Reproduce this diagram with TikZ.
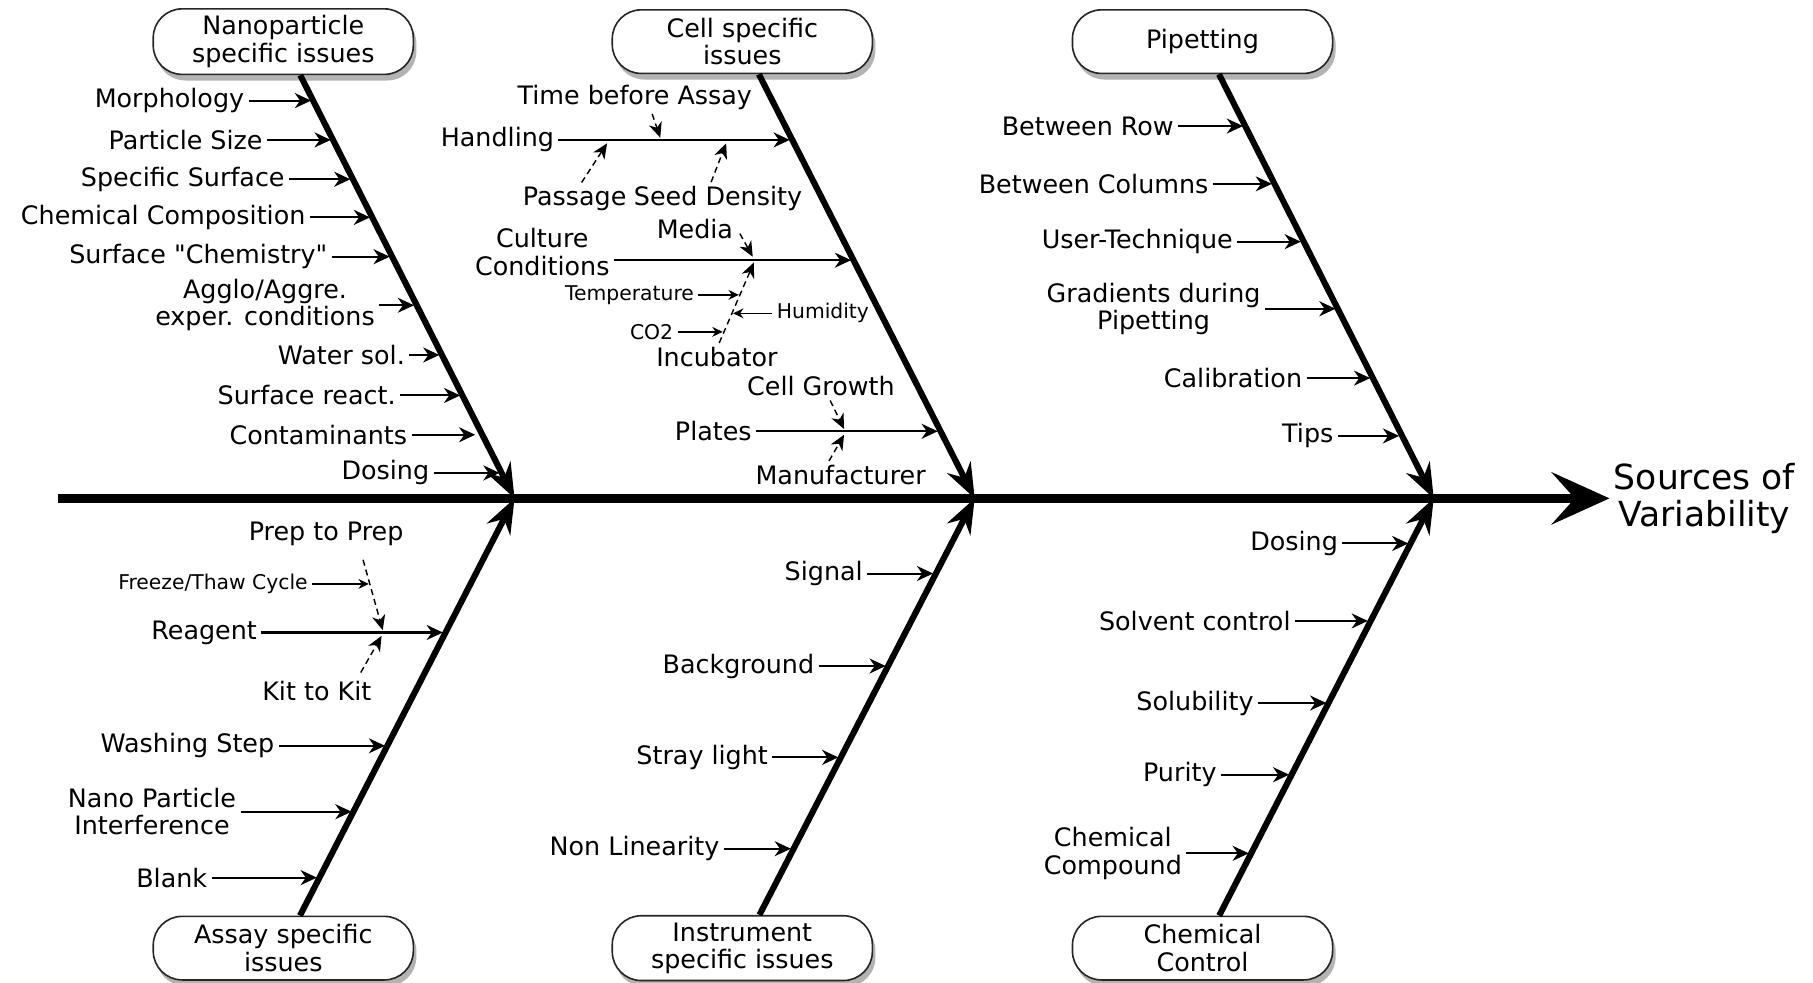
\documentclass[tikz,border=0pt]{standalone}
\usepackage{fontspec}
\setmainfont{DejaVu Sans}
\usetikzlibrary{arrows.meta,shadows,calc}

\begin{document}
\begin{tikzpicture}[
    x=0.02cm, y=-0.02cm,
    text centered,
	cat/.style={
	  rectangle,
	  rounded corners=5mm,
	  minimum width=4.5cm,
	  minimum height=1.1cm,
	  align=center,
	  thick,
	  draw=black!85,
	  fill=white,
	  drop shadow={shadow xshift=1.5pt, shadow yshift=-3pt, opacity=0.6},
	  font=\fontsize{12.5}{13.5}\selectfont
	},
	cause/.style={
	  anchor=east,
	  align=center,
	  inner sep=2pt,
	  font=\fontsize{12.5}{13.5}\selectfont
	},
	subcause/.style={
	  align=center,
	  inner sep=2pt,
	  font=\fontsize{12.5}{13.5}\selectfont
	},
	smallcause/.style={
	  anchor=east,
	  inner sep=2pt,
	  font=\fontsize{10}{11}\selectfont
	},
	spine/.style={draw, line width=4.2pt, -{Stealth[length=10mm, width=9mm, inset=4mm]}},
	bone/.style={draw, line width=3pt, -{Stealth[length=6mm, width=4.5mm, inset=2mm]}},
	rib/.style={draw, line width=1pt, -{Stealth[length=2.8mm, width=2.6mm, inset=0.9mm]}},
	dashrib/.style={draw, densely dashed, line width=0.7pt, -{Stealth[length=2.6mm, width=2.3mm, inset=0.8mm]}},
	smallrib/.style={draw, line width=0.7pt, -{Stealth[length=1.8mm, width=1.7mm, inset=0.6mm]}}
	]
	\useasboundingbox (0, 0) rectangle (1568, 850);

	% main line
	\coordinate (tail) at (50, 431);
	\node at (1392, 431) [anchor=west, align=center, inner sep=2pt, font=\fontsize{17}{18}\selectfont] (effect) {Sources of\\Variability};
	\coordinate (j1) at (445, 431);
	\coordinate (j2) at (843, 431);
	\coordinate (j3) at (1240, 431);

	% categories
	\node at (245, 36) [cat] (nano) {Nanoparticle\\specific issues};
	\node at (642, 36) [cat] (cell) {Cell specific\\issues};
	\node at (1040, 36) [cat] (pip) {Pipetting};
	\node at (245, 820) [cat] (assay) {Assay specific\\issues};
	\node at (642, 820) [cat] (instr) {Instrument\\specific issues};
	\node at (1040, 820) [cat] (chem) {Chemical\\Control};

	\path [bone] (nano) -- (j1);
	\path [bone] (cell) -- (j2);
	\path [bone] (pip) -- (j3);
	\path [bone] (assay) -- (j1);
	\path [bone] (instr) -- (j2);
	\path [bone] (chem) -- (j3);
	\path [spine] (tail) -- (effect);

	% nanoparticle specific issues
	\node at (215, 87) [cause] (morph) {Morphology};
	\node at (231, 121) [cause] (psize) {Particle Size};
	\node at (250, 155) [cause] (ssurf) {Specific Surface};
	\node at (268, 188) [cause] (ccomp) {Chemical Composition};
	\node at (287, 222) [cause] (schem) {Surface \textquotedbl Chemistry\textquotedbl};
	\node at (328, 264) [cause] (agglo) {Agglo/Aggre.\\exper. conditions};
	\node at (354, 307) [cause] (wsol) {Water sol.};
	\node at (346, 342) [cause] (sreact) {Surface react.};
	\node at (356, 376) [cause] (contam) {Contaminants};
	\node at (375, 409) [cause] (ndose) {Dosing};
	\coordinate (b1-morph) at (269, 87);
	\coordinate (b1-psize) at (286, 121);
	\coordinate (b1-ssurf) at (303, 155);
	\coordinate (b1-ccomp) at (320, 188);
	\coordinate (b1-schem) at (337, 222);
	\coordinate (b1-agglo) at (358, 264);
	\coordinate (b1-wsol) at (380, 307);
	\coordinate (b1-sreact) at (398, 342);
	\coordinate (b1-contam) at (411, 376);
	\coordinate (b1-ndose) at (432, 409);
	\path [rib] (morph) -- (b1-morph);
	\path [rib] (psize) -- (b1-psize);
	\path [rib] (ssurf) -- (b1-ssurf);
	\path [rib] (ccomp) -- (b1-ccomp);
	\path [rib] (schem) -- (b1-schem);
	\path [rib] (agglo) -- (b1-agglo);
	\path [rib] (wsol) -- (b1-wsol);
	\path [rib] (sreact) -- (b1-sreact);
	\path [rib] (contam) -- (b1-contam);
	\path [rib] (ndose) -- (b1-ndose);

	% cell specific issues
	\node at (483, 121) [cause] (handl) {Handling};
	\node at (531, 218) [cause] (cult) {Culture\\Conditions};
	\node at (654, 373) [cause] (plates) {Plates};
	\coordinate (b2-handl) at (683, 121);
	\coordinate (b2-cult) at (736, 225);
	\coordinate (b2-plates) at (811, 373);
	\path [rib] (handl) -- (b2-handl);
	\path [rib] (cult.east |- b2-cult) -- (b2-cult);
	\path [rib] (plates) -- (b2-plates);

	\node at (549, 84) [subcause] (tba) {Time before Assay};
	\node at (497, 172) [subcause] (pas) {Passage};
	\node at (621, 172) [subcause] (seed) {Seed Density};
	\coordinate (h-tba) at (571, 119);
	\coordinate (h-pas) at (525, 124);
	\coordinate (h-seed) at (628, 124);
	\path [dashrib] ($(tba.south)+(15,0)$) -- (h-tba);
	\path [dashrib] ($(pas.north)+(6,0)$) -- (h-pas);
	\path [dashrib] ($(seed.north)+(-6,0)$) -- (h-seed);

	\node at (601, 198) [subcause] (media) {Media};
	\node at (620, 309) [subcause] (incu) {Incubator};
	\coordinate (c-media) at (651, 222);
	\coordinate (c-incu) at (652, 227);
	\path [dashrib] ($(media.east)+(2,4)$) -- (c-media);
	\path [dashrib] ($(incu.north)+(2,0)$) -- (c-incu);

	\node at (604, 255) [smallcause] (temp) {Temperature};
	\node at (668, 271) [smallcause, anchor=west] (humid) {Humidity};
	\node at (586, 287) [smallcause] (cotwo) {CO2};
	\coordinate (i-temp) at (639, 255);
	\coordinate (i-humid) at (634, 271);
	\coordinate (i-cotwo) at (625, 287);
	\path [smallrib] (temp) -- (i-temp);
	\path [smallrib] (humid) -- (i-humid);
	\path [smallrib] (cotwo) -- (i-cotwo);

	\node at (710, 334) [subcause] (growth) {Cell Growth};
	\node at (727, 411) [subcause] (manuf) {Manufacturer};
	\coordinate (p-growth) at (730, 371);
	\coordinate (p-manuf) at (730, 376);
	\path [dashrib] ($(growth.south)+(8,0)$) -- (p-growth);
	\path [dashrib] ($(manuf.north)+(-10,0)$) -- (p-manuf);

	% pipetting
	\node at (1019, 109) [cause] (row) {Between Row};
	\node at (1049, 159) [cause] (cols) {Between Columns};
	\node at (1070, 209) [cause] (tech) {User-Technique};
	\node at (1094, 267) [cause] (grad) {Gradients during\\Pipetting};
	\node at (1130, 327) [cause] (calib) {Calibration};
	\node at (1157, 377) [cause] (tips) {Tips};
	\coordinate (b3-row) at (1075, 109);
	\coordinate (b3-cols) at (1100, 159);
	\coordinate (b3-tech) at (1125, 209);
	\coordinate (b3-grad) at (1155, 267);
	\coordinate (b3-calib) at (1185, 327);
	\coordinate (b3-tips) at (1210, 377);
	\path [rib] (row) -- (b3-row);
	\path [rib] (cols) -- (b3-cols);
	\path [rib] (tech) -- (b3-tech);
	\path [rib] (grad) -- (b3-grad);
	\path [rib] (calib) -- (b3-calib);
	\path [rib] (tips) -- (b3-tips);

	% assay specific issues
	\node at (226, 547) [cause] (reag) {Reagent};
	\node at (241, 645) [cause] (wash) {Washing Step};
	\node at (208, 702) [cause] (interf) {Nano Particle\\Interference};
	\node at (183, 759) [cause] (blank) {Blank};
	\coordinate (b4-reag) at (383, 547);
	\coordinate (b4-wash) at (333, 645);
	\coordinate (b4-interf) at (304, 702);
	\coordinate (b4-blank) at (274, 759);
	\path [rib] (reag) -- (b4-reag);
	\path [rib] (wash) -- (b4-wash);
	\path [rib] (interf) -- (b4-interf);
	\path [rib] (blank) -- (b4-blank);

	\node at (282, 462) [subcause] (prep) {Prep to Prep};
	\node at (274, 598) [subcause] (kit) {Kit to Kit};
	\node at (270, 505) [smallcause] (freeze) {Freeze/Thaw Cycle};
	\coordinate (r-prep) at (331, 545);
	\coordinate (r-kit) at (330, 550);
	\coordinate (p-freeze) at (319, 505);
	\path [dashrib] ($(prep.south)+(32,8)$) -- (r-prep);
	\path [dashrib] ($(kit.north)+(38,-4)$) -- (r-kit);
	\path [smallrib] (freeze) -- (p-freeze);

	% instrument specific issues
	\node at (750, 496) [cause] (signal) {Signal};
	\node at (708, 576) [cause] (backgr) {Background};
	\node at (668, 655) [cause] (stray) {Stray light};
	\node at (626, 734) [cause] (nonlin) {Non Linearity};
	\coordinate (b5-signal) at (807, 496);
	\coordinate (b5-backgr) at (766, 576);
	\coordinate (b5-stray) at (725, 655);
	\coordinate (b5-nonlin) at (684, 734);
	\path [rib] (signal) -- (b5-signal);
	\path [rib] (backgr) -- (b5-backgr);
	\path [rib] (stray) -- (b5-stray);
	\path [rib] (nonlin) -- (b5-nonlin);

	% chemical control
	\node at (1161, 470) [cause] (cdose) {Dosing};
	\node at (1120, 537) [cause] (solv) {Solvent control};
	\node at (1088, 608) [cause] (solub) {Solubility};
	\node at (1056, 670) [cause] (purity) {Purity};
	\node at (1026, 738) [cause] (compd) {Chemical\\Compound};
	\coordinate (b6-cdose) at (1218, 470);
	\coordinate (b6-solv) at (1183, 537);
	\coordinate (b6-solub) at (1147, 608);
	\coordinate (b6-purity) at (1115, 670);
	\coordinate (b6-compd) at (1080, 738);
	\path [rib] (cdose) -- (b6-cdose);
	\path [rib] (solv) -- (b6-solv);
	\path [rib] (solub) -- (b6-solub);
	\path [rib] (purity) -- (b6-purity);
	\path [rib] (compd) -- (b6-compd);
\end{tikzpicture}
\end{document}
